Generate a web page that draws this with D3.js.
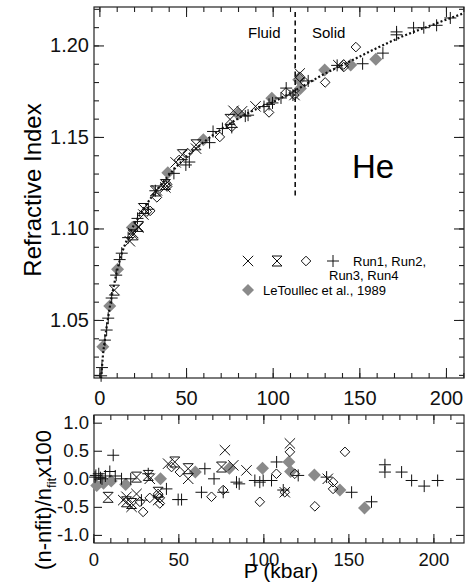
<!DOCTYPE html>
<html>
<head>
<meta charset="utf-8">
<script src="https://cdn.jsdelivr.net/npm/d3@7"></script>
<style>
body { margin: 0; background: #fff; }
svg { display: block; font-family: "Liberation Sans", Arial, Helvetica, sans-serif; }
</style>
</head>
<body>
<div id="chart"></div>
<script>
// each point: [P (kbar), refractive index n, residual (n-nfit)/nfit x100]
var leToullec = [
  [2, 1.0354, -0.12], [6, 1.0576, -0.08], [10.5, 1.0777, -0.04], [19, 1.1005, -0.10],
  [39.5, 1.1305, 0.0], [60, 1.1485, 0.12], [80, 1.1625, 0.19], [99.5, 1.1712, 0.19],
  [115, 1.1812, 0.30], [116, 1.1765, 0.13], [130, 1.1866, 0.07], [145, 1.1893, -0.20],
  [159.5, 1.1925, -0.52]
];
var run1 = [
  [17.6, 1.0930, -0.38], [19.5, 1.0975, -0.32], [22.5, 1.1005, -0.50], [25.4, 1.1076, -0.27],
  [33.2, 1.1208, 0.0], [38.1, 1.1224, -0.38], [44.0, 1.1361, 0.27], [55.8, 1.1436, 0.0],
  [77.4, 1.1643, 0.51], [82.3, 1.1640, 0.24], [90.1, 1.1667, 0.15], [112.6, 1.1729, -0.24],
  [115.6, 1.1847, 0.63], [137.9, 1.1892, 0.0]
];
var run2 = [
  [8.7, 1.0663, -0.33], [19.5, 1.0965, -0.41], [22.5, 1.1011, -0.44], [25.4, 1.1109, 0.03],
  [32.3, 1.1205, 0.06], [38.1, 1.1240, -0.24], [47.9, 1.1403, 0.30], [55.8, 1.1457, 0.18],
  [75.4, 1.1596, 0.21]
];
var run3 = [
  [27.4, 1.1092, -0.41], [29.3, 1.1096, -0.59], [33.2, 1.1170, -0.34], [38.1, 1.1237, -0.27],
  [39.1, 1.1229, -0.44], [39.1, 1.1241, -0.34], [46.0, 1.1374, 0.21], [50.9, 1.1412, 0.12],
  [69.5, 1.1500, -0.32], [76.4, 1.1555, -0.20], [97.9, 1.1634, -0.41], [107.7, 1.1743, 0.09],
  [112.6, 1.1729, -0.24], [115.6, 1.1829, 0.48], [118.5, 1.1800, 0.09], [130.3, 1.1798, -0.49],
  [141.0, 1.1896, -0.06], [141.0, 1.1882, -0.18], [148.0, 1.1991, 0.48]
];
var run4 = [
  [1.0, 1.0195, 0.03], [1.5, 1.0240, 0.06], [3.2, 1.0390, 0.09], [4.2, 1.0445, 0.02],
  [5.1, 1.0510, 0.0], [7.1, 1.0620, 0.05], [9.7, 1.0745, 0.13], [11.7, 1.0830, 0.42],
  [12.9, 1.0865, 0.05], [16.6, 1.0950, 0.0], [22.0, 1.1055, 0.0], [28.3, 1.1105, -0.38],
  [32.3, 1.1206, 0.09], [43.0, 1.1301, -0.18], [49.9, 1.1347, -0.37], [51.9, 1.1363, -0.37],
  [63.6, 1.1469, -0.24], [65.6, 1.1530, 0.18], [71.0, 1.1546, 0.0], [76.4, 1.1552, -0.24],
  [84.2, 1.1614, -0.06], [85.8, 1.1619, -0.09], [95.0, 1.1666, -0.03], [97.9, 1.1678, -0.06],
  [99.9, 1.1686, -0.03], [104.8, 1.1713, -0.03], [107.8, 1.1767, 0.30], [111.7, 1.1729, -0.20],
  [120.5, 1.1806, 0.06], [137.2, 1.1891, 0.03], [151.9, 1.1900, -0.24], [163.6, 1.1958, -0.41],
  [171.5, 1.2074, 0.25], [171.5, 1.2058, 0.12], [181.3, 1.2096, 0.12], [187.2, 1.2097, -0.03],
  [194.6, 1.2110, -0.13], [202.5, 1.2150, -0.03]
];
// fit curve: [P, nfit]
var fitCurve = [
  [1.0, 1.018], [2, 1.030], [3, 1.038], [4, 1.045], [5, 1.051], [6, 1.057], [8, 1.067],
  [10, 1.076], [13, 1.0865], [16, 1.094], [20, 1.102], [25, 1.110], [30, 1.117], [40, 1.129],
  [50, 1.139], [60, 1.147], [70, 1.154], [80, 1.160], [90, 1.165], [100, 1.169], [115, 1.1765],
  [130, 1.1845], [145, 1.1915], [160, 1.1985], [175, 1.205], [190, 1.2105], [210, 1.2175]
];
var transitionP = 113;
var transitionN = [1.118, 1.2195];
var xMajorTicks = [0, 50, 100, 150, 200];
var topYMajor = [1.05, 1.10, 1.15, 1.20];
var botYMajor = [-1.0, -0.5, 0.0, 0.5, 1.0];

var W = 466, H = 584;
var svg = d3.select("#chart").append("svg").attr("width", W).attr("height", H);
svg.append("rect").attr("width", W).attr("height", H).attr("fill", "#fff");

var x1 = d3.scaleLinear().domain([-3.1, 210.4]).range([94, 464]);
var y1 = d3.scaleLinear().domain([1.0183, 1.221]).range([378, 7]);
var x2 = d3.scaleLinear().domain([0.4, 218]).range([94, 464]);
var y2 = d3.scaleLinear().domain([-1.144, 1.137]).range([543, 415]);

//marker shapes
function markerPath(type, s) {
  if (type == "x") return "M" + (-s) + "," + (-s) + "L" + s + "," + s + "M" + (-s) + "," + s + "L" + s + "," + (-s);
  if (type == "plus") return "M" + (-s) + ",0H" + s + "M0," + (-s) + "V" + s;
  if (type == "diamond") return "M0," + (-s) + "L" + s + ",0L0," + s + "L" + (-s) + ",0Z";
  if (type == "hourglass") return "M" + (-s) + "," + (-s) + "H" + s + "L" + (-s) + "," + s + "H" + s + "Z";
}
var series = [
  { data: leToullec, type: "diamond", size: 6.5, fill: "#8a8a8a", stroke: "none" },
  { data: run1, type: "x", size: 5.2, fill: "none", stroke: "#111" },
  { data: run2, type: "hourglass", size: 5, fill: "none", stroke: "#111" },
  { data: run3, type: "diamond", size: 4.8, fill: "none", stroke: "#111" },
  { data: run4, type: "plus", size: 6, fill: "none", stroke: "#111" }
];

function styleAxis(g, size) {
  g.select(".domain").remove();
  g.selectAll("line").attr("stroke", "#222").attr("stroke-width", 1.1);
  g.selectAll("text").attr("fill", "#111").style("font-size", size + "px")
    .style("font-family", '"Liberation Sans", Arial, sans-serif');
}

function drawFrame(x, y, xMinor, yMinor, yMajor, yFmt, xPad, fontSize, minorLen, majorLen, yMajorLen) {
  var r = x.range(), d = y.range();
  var left = r[0], right = r[1], bottom = d[0], topY = d[1];
  // minor x ticks, bottom and top
  svg.append("g").attr("transform", "translate(0," + bottom + ")")
    .call(d3.axisBottom(x).tickValues(xMinor).tickSize(-minorLen).tickFormat(""))
    .call(styleAxis, fontSize);
  svg.append("g").attr("transform", "translate(0," + topY + ")")
    .call(d3.axisTop(x).tickValues(xMinor).tickSize(-minorLen).tickFormat(""))
    .call(styleAxis, fontSize);
  // major x ticks with labels
  svg.append("g").attr("transform", "translate(0," + bottom + ")")
    .call(d3.axisBottom(x).tickValues(xMajorTicks).tickSize(-majorLen).tickPadding(xPad).tickFormat(d3.format("d")))
    .call(styleAxis, fontSize);
  svg.append("g").attr("transform", "translate(0," + topY + ")")
    .call(d3.axisTop(x).tickValues(xMajorTicks).tickSize(-majorLen).tickFormat(""))
    .call(styleAxis, fontSize);
  // y ticks, left and right
  if (yMinor.length) {
    svg.append("g").attr("transform", "translate(" + left + ",0)")
      .call(d3.axisLeft(y).tickValues(yMinor).tickSize(-minorLen).tickFormat(""))
      .call(styleAxis, fontSize);
    svg.append("g").attr("transform", "translate(" + right + ",0)")
      .call(d3.axisRight(y).tickValues(yMinor).tickSize(-minorLen).tickFormat(""))
      .call(styleAxis, fontSize);
  }
  svg.append("g").attr("transform", "translate(" + left + ",0)")
    .call(d3.axisLeft(y).tickValues(yMajor).tickSize(-yMajorLen).tickPadding(5).tickFormat(yFmt))
    .call(styleAxis, fontSize);
  svg.append("g").attr("transform", "translate(" + right + ",0)")
    .call(d3.axisRight(y).tickValues(yMajor).tickSize(-yMajorLen).tickFormat(""))
    .call(styleAxis, fontSize);
  svg.append("rect").attr("x", left).attr("y", topY)
    .attr("width", right - left).attr("height", bottom - topY)
    .attr("fill", "none").attr("stroke", "#222").attr("stroke-width", 1.2);
}

// ---------- top panel ----------
drawFrame(x1, y1, d3.range(0, 211, 10), d3.range(1.02, 1.2201, 0.01), topYMajor,
  function(d) { return d.toFixed(2); }, 13, 20, 5, 10, 10);

svg.append("defs").append("clipPath").attr("id", "clipTop")
  .append("rect").attr("x", 94).attr("y", 7).attr("width", 370).attr("height", 371);

series.forEach(function(s) {
  svg.append("g").selectAll("path").data(s.data).join("path")
    .attr("transform", function(d) { return "translate(" + x1(d[0]) + "," + y1(d[1]) + ")"; })
    .attr("d", markerPath(s.type, s.size))
    .attr("fill", s.fill).attr("stroke", s.stroke).attr("stroke-width", 1);
});

var fitLine = d3.line()
  .x(function(d) { return x1(d[0]); })
  .y(function(d) { return y1(d[1]); })
  .curve(d3.curveMonotoneX);
svg.append("path").datum(fitCurve)
  .attr("clip-path", "url(#clipTop)")
  .attr("d", fitLine)
  .attr("fill", "none").attr("stroke", "#111").attr("stroke-width", 2.2)
  .attr("stroke-dasharray", "2,2.2");

svg.append("line")
  .attr("x1", x1(transitionP)).attr("x2", x1(transitionP))
  .attr("y1", y1(transitionN[0])).attr("y2", y1(transitionN[1]))
  .attr("stroke", "#111").attr("stroke-width", 1.6).attr("stroke-dasharray", "5,3.5");

svg.append("text").attr("x", 248).attr("y", 38).style("font-size", "15px").text("Fluid");
svg.append("text").attr("x", 312).attr("y", 38).style("font-size", "15px").text("Solid");
svg.append("text").attr("x", 352).attr("y", 178).style("font-size", "33px").text("He");

svg.append("text")
  .attr("transform", "translate(41,190) rotate(-90)")
  .attr("text-anchor", "middle").style("font-size", "24px").text("Refractive Index");

// legend
var legendSyms = [["x", 248], ["hourglass", 277], ["diamond", 306], ["plus", 333]];
legendSyms.forEach(function(l, i) {
  var s = series[i + 1];
  svg.append("path").attr("transform", "translate(" + l[1] + ",261)")
    .attr("d", markerPath(l[0], s.size)).attr("fill", "none").attr("stroke", "#111");
});
svg.append("path").attr("transform", "translate(248,290)")
  .attr("d", markerPath("diamond", 6)).attr("fill", "#8a8a8a");
svg.append("text").attr("x", 353).attr("y", 266).style("font-size", "13px").text("Run1, Run2,");
svg.append("text").attr("x", 329).attr("y", 280).style("font-size", "13px").text("Run3, Run4");
svg.append("text").attr("x", 263).attr("y", 295).style("font-size", "13px").text("LeToullec et al., 1989");

// ---------- bottom panel ----------
drawFrame(x2, y2, d3.range(0, 211, 10), [], botYMajor,
  function(d) { return d.toFixed(1); }, 10, 18.5, 5, 9, 8);

series.forEach(function(s) {
  svg.append("g").selectAll("path").data(s.data).join("path")
    .attr("transform", function(d) { return "translate(" + x2(d[0]) + "," + y2(d[2]) + ")"; })
    .attr("d", markerPath(s.type, s.size))
    .attr("fill", s.fill).attr("stroke", s.stroke).attr("stroke-width", 1);
});

svg.append("text").attr("x", 281).attr("y", 578).attr("text-anchor", "middle")
  .style("font-size", "21px").text("P (kbar)");

var yl = svg.append("text")
  .attr("transform", "translate(51,500) rotate(-90)")
  .attr("text-anchor", "middle").style("font-size", "22px");
yl.append("tspan").text("(n-nfit)/n");
yl.append("tspan").attr("dy", 5).style("font-size", "13px").text("fit");
yl.append("tspan").attr("dy", -5).text("x100");
</script>
</body>
</html>
